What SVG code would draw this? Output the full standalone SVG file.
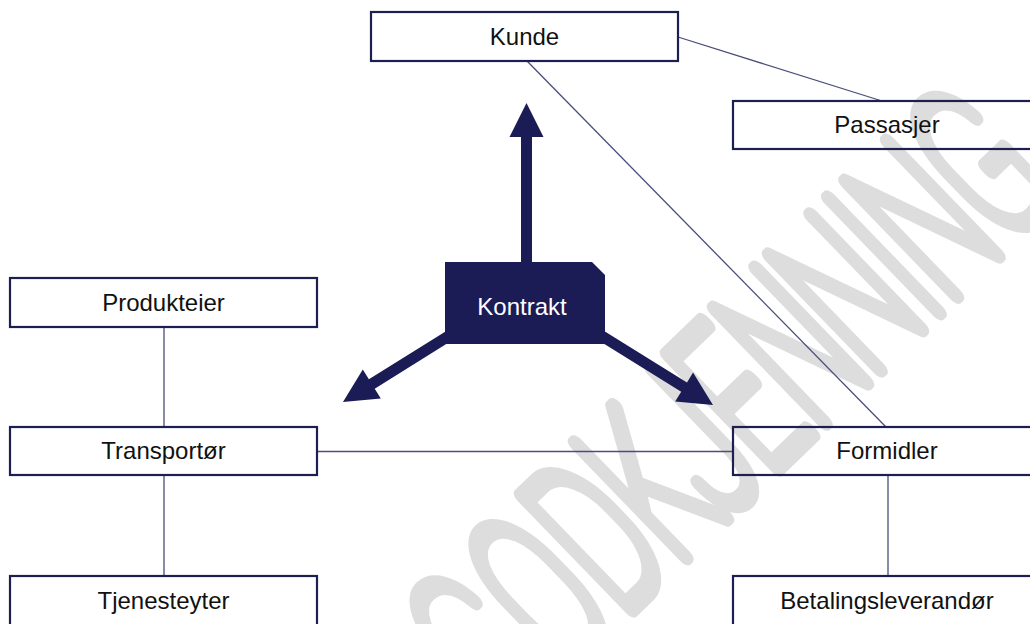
<svg xmlns="http://www.w3.org/2000/svg" width="1030" height="624" viewBox="0 0 1030 624">
  <style>
    .box { fill: none; stroke: #1c1f4f; stroke-width: 2.2; }
    .lbl { font-family: "Liberation Sans", Arial, sans-serif; font-size: 24px; fill: #111; text-anchor: middle; }
    .wlbl { font-family: "Liberation Sans", Arial, sans-serif; font-size: 24px; fill: #ffffff; text-anchor: middle; }
    .conn { stroke: #4a4e78; stroke-width: 1.3; fill: none; }
    .arrow { fill: #1b1c55; }
    .wm { font-family: Roboto, "Liberation Sans", sans-serif; font-weight: 100; font-size: 112px; fill: #dddddd; stroke: #dddddd; stroke-width: 15; stroke-linejoin: round; stroke-linecap: round; vector-effect: non-scaling-stroke; text-anchor: middle; }
  </style>
  <defs>
    <polygon id="arr140" points="0,-5.5 106,-5.5 106,-17 140,0 106,17 106,5.5 0,5.5"/>
    <polygon id="arr167" points="0,-5.5 133,-5.5 133,-17 167,0 133,17 133,5.5 0,5.5"/>
  </defs>
  <rect width="1030" height="624" fill="#ffffff"/>
  <g id="watermark">
    <text class="wm" transform="matrix(0.764 -0.739 1.369 1.416 503.3 732.6)" x="38.9 116.7 191.7 261.2 319.5 377.9 447.3 519.4 569.4 619.4 694.4" y="0">GODKJENNING</text>
  </g>
  <g id="connectors">
    <line class="conn" x1="678" y1="37" x2="882" y2="101"/>
    <line class="conn" x1="527" y1="61" x2="886" y2="427"/>
    <line class="conn" x1="164" y1="327" x2="164" y2="427"/>
    <line class="conn" x1="317" y1="451.5" x2="733" y2="451.5"/>
    <line class="conn" x1="164" y1="475" x2="164" y2="576"/>
    <line class="conn" x1="888" y1="475" x2="888" y2="576"/>
  </g>
  <g id="kunde">
    <rect class="box" x="371" y="12" width="307" height="49"/>
    <text class="lbl" x="524.5" y="45">Kunde</text>
  </g>
  <g id="passasjer">
    <rect class="box" x="733" y="101" width="310" height="48"/>
    <text class="lbl" x="887" y="133">Passasjer</text>
  </g>
  <g id="produkteier">
    <rect class="box" x="10" y="278" width="307" height="49"/>
    <text class="lbl" x="163.5" y="311">Produkteier</text>
  </g>
  <g id="transportor">
    <rect class="box" x="10" y="427" width="307" height="48"/>
    <text class="lbl" x="163.5" y="459">Transportør</text>
  </g>
  <g id="tjenesteyter">
    <rect class="box" x="10" y="576" width="307" height="60"/>
    <text class="lbl" x="163.5" y="609">Tjenesteyter</text>
  </g>
  <g id="formidler">
    <rect class="box" x="733" y="427" width="310" height="48"/>
    <text class="lbl" x="887" y="459">Formidler</text>
  </g>
  <g id="betalingsleverandor">
    <rect class="box" x="733" y="576" width="310" height="60"/>
    <text class="lbl" x="887" y="609">Betalingsleverandør</text>
  </g>
  <g id="kontrakt">
    <use href="#arr167" class="arrow" transform="translate(526.5 270) rotate(-90)"/>
    <use href="#arr140" class="arrow" transform="translate(461.7 327.8) rotate(148)"/>
    <use href="#arr140" class="arrow" transform="translate(594 331.2) rotate(31.8)"/>
    <polygon class="arrow" points="445,262 592,262 605,275 605,344 445,344"/>
    <text class="wlbl" x="522" y="315">Kontrakt</text>
  </g>
</svg>
